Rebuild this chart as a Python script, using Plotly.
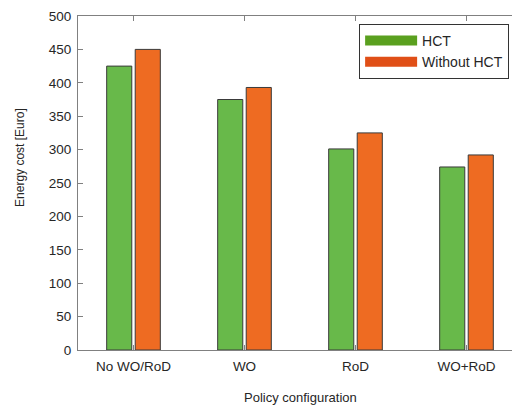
import plotly.graph_objects as go

categories = ['No WO/RoD', 'WO', 'RoD', 'WO+RoD']
hct = [425, 375, 301, 274]
without_hct = [450, 393, 325, 292]

green = '#68b94a'
orange = '#ee6b22'
font_family = 'Liberation Sans, Arial, sans-serif'

fig = go.Figure()
fig.add_trace(go.Bar(x=categories, y=hct, name='HCT', showlegend=False,
                     marker=dict(color=green, line=dict(color='#3a3a3a', width=1))))
fig.add_trace(go.Bar(x=categories, y=without_hct, name='Without HCT', showlegend=False,
                     marker=dict(color=orange, line=dict(color='#3a3a3a', width=1))))

# legend entries: wide swatches, a bit darker than the bars
fig.add_trace(go.Scatter(x=[None], y=[None], name='HCT', mode='lines',
                         line=dict(color='#5aa01f', width=13)))
fig.add_trace(go.Scatter(x=[None], y=[None], name='Without HCT', mode='lines',
                         line=dict(color='#e04f17', width=13)))

# right frame edge sits just outside the window, as in the original
fig.update_layout(
    width=514, height=397,
    margin=dict(l=70, r=0, t=8, b=55),
    paper_bgcolor='white', plot_bgcolor='white',
    font=dict(family=font_family, size=13, color='#262626'),
    barmode='group', bargap=0.486, bargroupgap=0.12,
    legend=dict(x=0.971, y=0.976, xanchor='right', yanchor='top',
                bordercolor='#333', borderwidth=1, bgcolor='white',
                font=dict(size=14), tracegroupgap=0, itemwidth=52),
    xaxis=dict(
        range=[-0.5, 3.5],
        showline=True, linecolor='#808080', linewidth=1, mirror='ticks',
        ticks='inside', ticklen=5, tickcolor='#808080',
        tickfont=dict(size=13.5, color='#262626'),
        ticklabelstandoff=4,
    ),
    yaxis=dict(
        range=[0, 500], dtick=50,
        showline=True, linecolor='#808080', linewidth=1, mirror='ticks',
        ticks='inside', ticklen=5, tickcolor='#808080',
        showgrid=False, zeroline=False,
        tickfont=dict(size=13.5, color='#262626'),
        ticklabelstandoff=3,
    ),
    annotations=[
        dict(text='Energy cost [Euro]', textangle=-90, xref='paper', yref='paper',
             x=0, y=0.575, xshift=-58, xanchor='center', yanchor='middle',
             showarrow=False, font=dict(size=12)),
        dict(text='Policy configuration', xref='paper', yref='paper',
             x=0.5, y=0, yshift=-47, xanchor='center', yanchor='middle',
             showarrow=False, font=dict(size=13)),
    ],
)

fig.write_html('out.html')
